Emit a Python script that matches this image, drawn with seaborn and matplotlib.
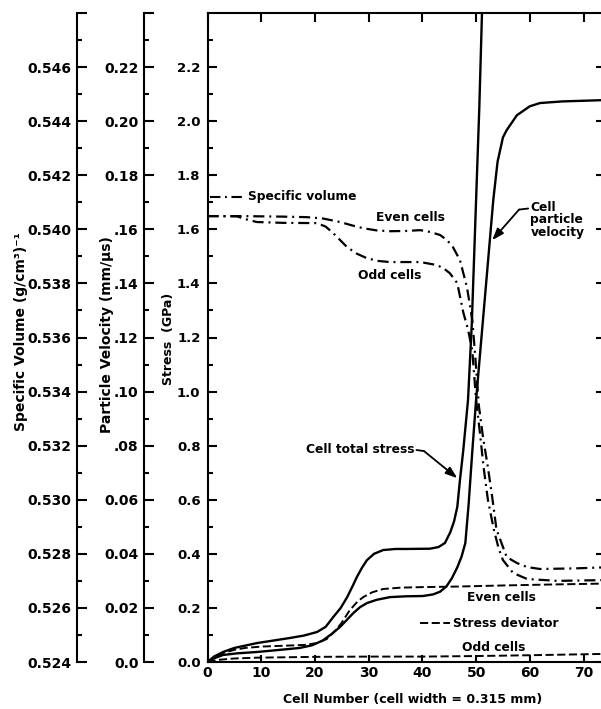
import numpy as np
import pandas as pd
import matplotlib
matplotlib.use("Agg")
import matplotlib.pyplot as plt
import seaborn as sns
from matplotlib.ticker import FixedLocator

# ---------------- data ----------------
# Cell total stress (GPa)
total_cell = [0, 1.2, 2.9, 5.0, 9.2, 12.5, 15.4, 18.0, 20.4, 22.0, 23.4, 24.8, 26.0, 27.0,
              27.8, 28.8, 29.7, 31.0, 32.7, 35.0, 37.2, 41.4, 43.0, 44.2, 45.2, 45.9, 46.5,
              47.0, 47.6, 48.5, 49.2, 50.0, 50.6, 51.1, 51.4]
total_stress = [0, 0.02, 0.037, 0.052, 0.07, 0.08, 0.089, 0.098, 0.111, 0.13, 0.166, 0.20,
                0.24, 0.28, 0.314, 0.35, 0.377, 0.40, 0.414, 0.418, 0.418, 0.419, 0.425,
                0.44, 0.48, 0.52, 0.573, 0.673, 0.78, 0.969, 1.25, 1.708, 2.05, 2.40, 2.6]

# Cell particle velocity (mm/us)
pv_cell = [0, 1.0, 2.9, 5.5, 9.2, 13.0, 17.2, 19.5, 21.5, 23.2, 24.7, 26.0, 27.1, 28.4,
           29.7, 31.5, 34.0, 37.0, 40.1, 42.0, 43.3, 44.5, 45.5, 46.5, 47.3, 48.0, 48.6,
           49.3, 50.0, 51.0, 52.0, 53.2, 54.0, 55.0, 55.7, 57.6, 60.0, 61.9, 66.0, 74.0]
pv_val = [0, 0.0012, 0.0026, 0.0032, 0.0037, 0.0044, 0.0052, 0.0062, 0.008, 0.0105, 0.013,
          0.0157, 0.018, 0.0203, 0.0218, 0.023, 0.024, 0.0243, 0.0244, 0.025, 0.026, 0.028,
          0.031, 0.035, 0.039, 0.044, 0.058, 0.078, 0.0969, 0.120, 0.143, 0.1708, 0.185,
          0.194, 0.1967, 0.2022, 0.2055, 0.2067, 0.2073, 0.2078]

# Specific volume, even cells ((g/cm3)^-1)
sv_even_cell = [0, 6, 10, 14, 18.5, 21.5, 24.7, 27.0, 29.0, 31.5, 34.0, 37.0, 39.6, 41.5,
                43.3, 44.6, 45.7, 47.0, 48.3, 49.3, 49.8, 50.5, 51.3, 52.2, 53.0, 53.8,
                55.7, 57.6, 59.5, 61.9, 68.1, 74.0]
sv_even = [0.54049, 0.54049, 0.54048, 0.54047, 0.54045, 0.54040, 0.54027, 0.54014, 0.54004,
           0.53996, 0.53993, 0.53994, 0.53997, 0.53990, 0.53979, 0.53960, 0.53934, 0.53886,
           0.53786, 0.53664, 0.53542, 0.53350, 0.53230, 0.53120, 0.53010, 0.52890, 0.52788,
           0.52766, 0.52751, 0.52744, 0.52746, 0.52750]

# Specific volume, odd cells
sv_odd_cell = [0, 5.5, 7.0, 9.2, 14.0, 20.4, 22.0, 23.4, 24.7, 26.0, 27.8, 29.7, 31.8, 34.0,
               39.6, 42.7, 44.0, 45.1, 46.5, 47.6, 48.5, 49.3, 50.0, 50.7, 51.4, 52.2, 53.3,
               54.2, 55.0, 56.9, 59.5, 65.1, 74.0]
sv_odd = [0.54049, 0.54048, 0.54038, 0.54027, 0.54024, 0.54023, 0.54010, 0.53986, 0.53960,
          0.53934, 0.53910, 0.53893, 0.53883, 0.53879, 0.53879, 0.53868, 0.53855, 0.53838,
          0.53801, 0.53694, 0.53630, 0.53550, 0.53370, 0.53250, 0.53120, 0.53000, 0.52890,
          0.52820, 0.52777, 0.52729, 0.52707, 0.52700, 0.52703]

# Stress deviator (GPa), even and odd cells
sd_even_cell = [0, 1.2, 2.9, 5.0, 7.0, 10.0, 14.0, 18.0, 20.4, 22.2, 23.5, 24.8, 26.5, 28.0,
                29.0, 30.7, 32.7, 36.0, 40.1, 46.5, 55.0, 65.0, 74.0]
sd_even = [0, 0.015, 0.033, 0.045, 0.052, 0.057, 0.060, 0.063, 0.070, 0.085, 0.110, 0.140,
           0.192, 0.225, 0.240, 0.258, 0.270, 0.275, 0.277, 0.279, 0.283, 0.287, 0.290]
sd_odd_cell = [0, 2, 5, 9.2, 20, 30, 40, 50, 60, 74]
sd_odd = [0, 0.008, 0.013, 0.016, 0.019, 0.020, 0.020, 0.022, 0.025, 0.030]

# tick labels
x_ticks = [0, 10, 20, 30, 40, 50, 60, 70]
x_labels = ["0", "10", "20", "30", "40", "50", "60", "70"]
stress_ticks = [0.0, 0.2, 0.4, 0.6, 0.8, 1.0, 1.2, 1.4, 1.6, 1.8, 2.0, 2.2]
stress_labels = ["0.0", "0.2", "0.4", "0.6", "0.8", "1.0", "1.2", "1.4", "1.6", "1.8", "2.0", "2.2"]
pv_ticks = [0.0, 0.02, 0.04, 0.06, 0.08, 0.10, 0.12, 0.14, 0.16, 0.18, 0.20, 0.22, 0.24]
pv_labels = ["0.0", "0.02", "0.04", "0.06", ".08", ".10", ".12", ".14", ".16", "0.18", "0.20", "0.22", ""]
sv_ticks = [0.524, 0.526, 0.528, 0.530, 0.532, 0.534, 0.536, 0.538, 0.540, 0.542, 0.544, 0.546, 0.548]
sv_labels = ["0.524", "0.526", "0.528", "0.530", "0.532", "0.534", "0.536", "0.538", "0.540",
             "0.542", "0.544", "0.546", ""]

# ---------------- style ----------------
sns.set_style("white")
plt.rcParams['font.family'] = ['DejaVu Sans']
plt.rcParams['font.weight'] = 'bold'
plt.rcParams['axes.linewidth'] = 1.5
plt.rcParams['text.color'] = 'black'
plt.rcParams['xtick.color'] = 'black'
plt.rcParams['ytick.color'] = 'black'
plt.rcParams['axes.edgecolor'] = 'black'
plt.rcParams['axes.labelcolor'] = 'black'

W, H = 601, 709
fig = plt.figure(figsize=(W / 100, H / 100), dpi=100)
fig.patch.set_facecolor('white')

x0, x1, y0, y1 = 207.5, 605.0, 662.0, 13.0
ax = fig.add_axes([x0 / W, 1 - y0 / H, (x1 - x0) / W, (y0 - y1) / H])
ax.set_xlim(0, 74)
ax.set_ylim(0, 2.4)

ax_pv = ax.twinx()
ax_pv.set_ylim(0, 0.24)
ax_sv = ax.twinx()
ax_sv.set_ylim(0.524, 0.548)

solid = dict(color='black', linewidth=1.7, estimator=None, sort=False, legend=False)
dashdot = (0, (5, 2.2, 0.9, 2.2))
dashed = (0, (4.2, 1.8))

sns.lineplot(x=total_cell, y=total_stress, ax=ax, **solid)
sns.lineplot(x=pv_cell, y=pv_val, ax=ax_pv, **solid)
sns.lineplot(x=sv_even_cell, y=sv_even, ax=ax_sv, color='black', linewidth=1.6,
             linestyle=dashdot, estimator=None, sort=False, legend=False)
sns.lineplot(x=sv_odd_cell, y=sv_odd, ax=ax_sv, color='black', linewidth=1.6,
             linestyle=dashdot, estimator=None, sort=False, legend=False)
sns.lineplot(x=sd_even_cell, y=sd_even, ax=ax, color='black', linewidth=1.4,
             linestyle=dashed, estimator=None, sort=False, legend=False)
sns.lineplot(x=sd_odd_cell, y=sd_odd, ax=ax, color='black', linewidth=1.4,
             linestyle=dashed, estimator=None, sort=False, legend=False)

for a in (ax, ax_pv, ax_sv):
    a.set_xlabel("")
    a.set_ylabel("")
    a.grid(False)

# main stress axis
ax.set_xticks(x_ticks)
ax.set_xticklabels(x_labels)
ax.set_yticks(stress_ticks)
ax.set_yticklabels(stress_labels)
ax.yaxis.set_minor_locator(FixedLocator(np.arange(0.1, 2.4, 0.2)))
ax.tick_params(axis='y', which='major', direction='in', length=6.5, width=1.5,
               left=True, right=True, labelsize=9.5, pad=5, colors='black')
ax.tick_params(axis='y', which='minor', direction='in', length=3.5, width=1.5,
               left=True, right=False, colors='black')
ax.tick_params(axis='x', which='major', direction='in', length=6.5, width=1.5,
               top=True, bottom=True, labelsize=10, pad=3, colors='black')
for t in ax.xaxis.get_major_ticks():
    t.tick1line.set_markersize(5)
for s in ax.spines.values():
    s.set_linewidth(1.5)
    s.set_color('black')

# particle velocity and specific volume axes (left, detached)
for a, pos, ticks, labels, minor in (
        (ax_pv, (144 - x0) / (x1 - x0), pv_ticks, pv_labels, np.arange(0.01, 0.24, 0.02)),
        (ax_sv, (77 - x0) / (x1 - x0), sv_ticks, sv_labels, np.arange(0.525, 0.548, 0.002))):
    a.yaxis.set_ticks_position('left')
    a.yaxis.set_label_position('left')
    for k in ('right', 'top', 'bottom'):
        a.spines[k].set_visible(False)
    a.spines['left'].set_position(('axes', pos))
    a.spines['left'].set_linewidth(1.5)
    a.spines['left'].set_color('black')
    a.set_yticks(ticks)
    a.set_yticklabels(labels)
    a.yaxis.set_minor_locator(FixedLocator(minor))
    a.tick_params(axis='y', which='major', direction='in', length=7, width=1.5,
                  labelsize=10, pad=4, colors='black')
    a.tick_params(axis='y', which='minor', direction='in', length=3.8, width=1.5,
                  colors='black')
    a.patch.set_visible(False)

# axis titles
fig.text(21 / W, 1 - 332 / H, "Specific Volume (g/cm³)⁻¹", rotation=90,
         ha='center', va='center', fontsize=10, fontweight='bold')
fig.text(107 / W, 1 - 335 / H, "Particle Velocity (mm/µs)", rotation=90,
         ha='center', va='center', fontsize=10, fontweight='bold')
fig.text(169 / W, 1 - 339 / H, "Stress  (GPa)", rotation=90,
         ha='center', va='center', fontsize=9, fontweight='bold')
fig.text(413 / W, 1 - 700 / H, "Cell Number (cell width = 0.315 mm)",
         ha='center', va='center', fontsize=9, fontweight='bold')

# annotations
fs = 8.8
ax.plot([0.4, 7.2], [1.72, 1.72], color='black', lw=1.5, linestyle=dashdot)
ax.text(7.5, 1.72, "Specific volume", ha='left', va='center', fontsize=fs)
ax.text(37.7, 1.642, "Even cells", ha='center', va='center', fontsize=fs)
ax.text(34.0, 1.431, "Odd cells", ha='center', va='center', fontsize=fs)
ax.text(60.1, 1.705, "Cell\nparticle\nvelocity", ha='left', va='top', fontsize=fs,
        linespacing=0.95)
ax.plot([59.7, 58.0], [1.677, 1.673], color='black', lw=1.3)
ax.annotate("", xy=(53.0, 1.56), xytext=(58.0, 1.673),
            arrowprops=dict(arrowstyle='-|>,head_length=0.7,head_width=0.25',
                            color='black', lw=1.3, shrinkA=0, shrinkB=0))
ax.text(38.6, 0.784, "Cell total stress", ha='right', va='center', fontsize=fs)
ax.plot([38.9, 40.3], [0.784, 0.780], color='black', lw=1.3)
ax.annotate("", xy=(46.5, 0.68), xytext=(40.3, 0.780),
            arrowprops=dict(arrowstyle='-|>,head_length=0.7,head_width=0.25',
                            color='black', lw=1.3, shrinkA=0, shrinkB=0))
ax.text(54.8, 0.237, "Even cells", ha='center', va='center', fontsize=fs)
ax.plot([39.6, 45.2], [0.144, 0.144], color='black', lw=1.4, linestyle=dashed)
ax.text(45.7, 0.144, "Stress deviator", ha='left', va='center', fontsize=fs)
ax.text(53.2, 0.055, "Odd cells", ha='center', va='center', fontsize=fs)

fig.savefig("out.png", dpi=100, facecolor='white')
